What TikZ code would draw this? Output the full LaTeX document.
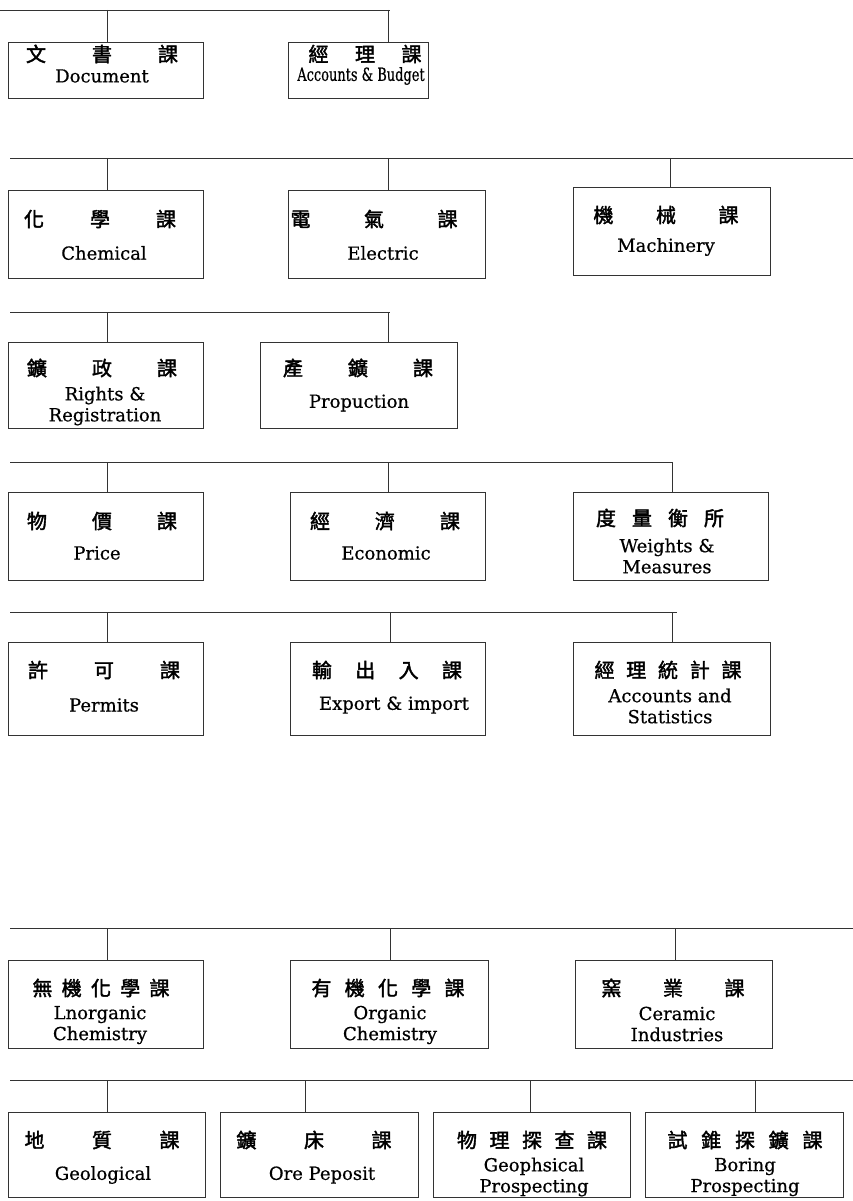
\documentclass[tikz,border=0pt]{standalone}
\usepackage{fontspec}
\usepackage{graphicx}
\setmainfont{DejaVu Serif}[FakeBold=0.6]
\newfontfamily\cjk[FakeBold=2]{Noto Sans CJK TC}
\usetikzlibrary{fit,calc}
\tikzset{
  link/.style={draw=black!80, line width=0.9pt},
  box/.style={draw=black!80, line width=0.9pt, inner sep=0pt, rectangle},
  cjkt/.style={inner sep=0pt, font=\cjk\fontsize{20}{20}\selectfont},
  engt/.style={inner sep=0pt, align=center, font=\fontsize{18}{21}\selectfont},
}
\begin{document}
\begin{tikzpicture}[x=1pt,y=-1pt]
\useasboundingbox (0,0) rectangle (853,1201);
% ---------- Row 1
\coordinate (h1l) at (0,10); \coordinate (h1r) at (390,10);
\coordinate (s1a) at (107,10); \coordinate (s1b) at (388,10);
\node[box, fit={(8,42) (203,98)}] (b1a) {};
\node[box, fit={(288,42) (428,98)}] (b1b) {};
\node[cjkt] (c1a) at (102,54) {\hbox to 152pt{文\hfil 書\hfil 課}};
\node[engt] (e1a) at (102,76) {Document};
\node[cjkt] (c1b) at (365,54) {\hbox to 113pt{經\hfil 理\hfil 課}};
\node[engt] (e1b) at (361,76) {\scalebox{0.72}[1]{Accounts \& Budget}};
\draw[link] (h1l) -- (h1r);
\draw[link] (s1a) -- (s1a |- b1a.north);
\draw[link] (s1b) -- (s1b |- b1b.north);
% ---------- Row 2
\coordinate (h2l) at (10,158); \coordinate (h2r) at (853,158);
\coordinate (s2a) at (107,158); \coordinate (s2b) at (388,158); \coordinate (s2c) at (670,158);
\node[box, fit={(8,190) (203,278)}] (b2a) {};
\node[box, fit={(288,190) (485,278)}] (b2b) {};
\node[box, fit={(573,187) (770,275)}] (b2c) {};
\node[cjkt] (c2a) at (100,219) {\hbox to 152pt{化\hfil 學\hfil 課}};
\node[cjkt] (c2b) at (374,219) {\hbox to 167pt{電\hfil 氣\hfil 課}};
\node[cjkt] (c2c) at (666,215) {\hbox to 145pt{機\hfil 械\hfil 課}};
\node[engt] (e2a) at (104,253) {Chemical};
\node[engt] (e2b) at (383,253) {Electric};
\node[engt] (e2c) at (666,247) {Machinery};
\draw[link] (h2l) -- (h2r);
\draw[link] (s2a) -- (s2a |- b2a.north);
\draw[link] (s2b) -- (s2b |- b2b.north);
\draw[link] (s2c) -- (s2c |- b2c.north);
% ---------- Row 3
\coordinate (h3l) at (10,312); \coordinate (h3r) at (390,312);
\coordinate (s3a) at (107,312); \coordinate (s3b) at (388,312);
\node[box, fit={(8,342) (203,428)}] (b3a) {};
\node[box, fit={(260,342) (457,428)}] (b3b) {};
\node[cjkt] (c3a) at (102,368) {\hbox to 150pt{鑛\hfil 政\hfil 課}};
\node[cjkt] (c3b) at (358,368) {\hbox to 150pt{產\hfil 鑛\hfil 課}};
\node[engt] (e3a) at (105,406) {Rights \&\\Registration};
\node[engt] (e3b) at (359,403) {Propuction};
\draw[link] (h3l) -- (h3r);
\draw[link] (s3a) -- (s3a |- b3a.north);
\draw[link] (s3b) -- (s3b |- b3b.north);
% ---------- Row 4
\coordinate (h4l) at (10,462); \coordinate (h4r) at (672,462);
\coordinate (s4a) at (107,462); \coordinate (s4b) at (388,462); \coordinate (s4c) at (672,462);
\node[box, fit={(8,492) (203,580)}] (b4a) {};
\node[box, fit={(290,492) (485,580)}] (b4b) {};
\node[box, fit={(573,492) (768,580)}] (b4c) {};
\node[cjkt] (c4a) at (102,521) {\hbox to 150pt{物\hfil 價\hfil 課}};
\node[cjkt] (c4b) at (385,521) {\hbox to 150pt{經\hfil 濟\hfil 課}};
\node[cjkt] (c4c) at (660,518) {\hbox to 128pt{度\hfil 量\hfil 衡\hfil 所}};
\node[engt] (e4a) at (97,553) {Price};
\node[engt] (e4b) at (386,553) {Economic};
\node[engt] (e4c) at (667,556) {Weights \&\\Measures};
\draw[link] (h4l) -- (h4r);
\draw[link] (s4a) -- (s4a |- b4a.north);
\draw[link] (s4b) -- (s4b |- b4b.north);
\draw[link] (s4c) -- (s4c |- b4c.north);
% ---------- Row 5
\coordinate (h5l) at (10,612); \coordinate (h5r) at (677,612);
\coordinate (s5a) at (107,612); \coordinate (s5b) at (390,612); \coordinate (s5c) at (672,612);
\node[box, fit={(8,642) (203,735)}] (b5a) {};
\node[box, fit={(290,642) (485,735)}] (b5b) {};
\node[box, fit={(573,642) (770,735)}] (b5c) {};
\node[cjkt] (c5a) at (104,670) {\hbox to 152pt{許\hfil 可\hfil 課}};
\node[cjkt] (c5b) at (387,670) {\hbox to 150pt{輸\hfil 出\hfil 入\hfil 課}};
\node[cjkt] (c5c) at (668,670) {\hbox to 147pt{經\hfil 理\hfil 統\hfil 計\hfil 課}};
\node[engt] (e5a) at (104,705) {Permits};
\node[engt] (e5b) at (394,705) {Export \& import};
\node[engt] (e5c) at (670,706) {Accounts and\\Statistics};
\draw[link] (h5l) -- (h5r);
\draw[link] (s5a) -- (s5a |- b5a.north);
\draw[link] (s5b) -- (s5b |- b5b.north);
\draw[link] (s5c) -- (s5c |- b5c.north);
% ---------- Row 6
\coordinate (h6l) at (10,928); \coordinate (h6r) at (853,928);
\coordinate (s6a) at (107,928); \coordinate (s6b) at (390,928); \coordinate (s6c) at (675,928);
\node[box, fit={(8,960) (203,1048)}] (b6a) {};
\node[box, fit={(290,960) (488,1048)}] (b6b) {};
\node[box, fit={(575,960) (772,1048)}] (b6c) {};
\node[cjkt] (c6a) at (101,988) {\hbox to 137pt{無\hfil 機\hfil 化\hfil 學\hfil 課}};
\node[cjkt] (c6b) at (388,988) {\hbox to 153pt{有\hfil 機\hfil 化\hfil 學\hfil 課}};
\node[cjkt] (c6c) at (673,988) {\hbox to 143pt{窯\hfil 業\hfil 課}};
\node[engt] (e6a) at (100,1025) {Lnorganic\\Chemistry};
\node[engt] (e6b) at (390,1025) {Organic\\Chemistry};
\node[engt] (e6c) at (677,1024) {Ceramic\\Industries};
\draw[link] (h6l) -- (h6r);
\draw[link] (s6a) -- (s6a |- b6a.north);
\draw[link] (s6b) -- (s6b |- b6b.north);
\draw[link] (s6c) -- (s6c |- b6c.north);
% ---------- Row 7
\coordinate (h7l) at (10,1080); \coordinate (h7r) at (853,1080);
\coordinate (s7a) at (107,1080); \coordinate (s7b) at (305,1080);
\coordinate (s7c) at (530,1080); \coordinate (s7d) at (755,1080);
\node[box, fit={(8,1112) (205,1197)}] (b7a) {};
\node[box, fit={(220,1112) (418,1197)}] (b7b) {};
\node[box, fit={(433,1112) (630,1197)}] (b7c) {};
\node[box, fit={(645,1112) (843,1197)}] (b7d) {};
\node[cjkt] (c7a) at (102,1140) {\hbox to 155pt{地\hfil 質\hfil 課}};
\node[cjkt] (c7b) at (314,1140) {\hbox to 155pt{鑛\hfil 床\hfil 課}};
\node[cjkt] (c7c) at (532,1140) {\hbox to 150pt{物\hfil 理\hfil 探\hfil 查\hfil 課}};
\node[cjkt] (c7d) at (745,1140) {\hbox to 155pt{試\hfil 錐\hfil 探\hfil 鑛\hfil 課}};
\node[engt] (e7a) at (103,1175) {Geological};
\node[engt] (e7b) at (322,1175) {Ore Peposit};
\node[engt] (e7c) at (534,1177) {Geophsical\\Prospecting};
\node[engt] (e7d) at (745,1177) {Boring\\Prospecting};
\draw[link] (h7l) -- (h7r);
\draw[link] (s7a) -- (s7a |- b7a.north);
\draw[link] (s7b) -- (s7b |- b7b.north);
\draw[link] (s7c) -- (s7c |- b7c.north);
\draw[link] (s7d) -- (s7d |- b7d.north);
\end{tikzpicture}
\end{document}
